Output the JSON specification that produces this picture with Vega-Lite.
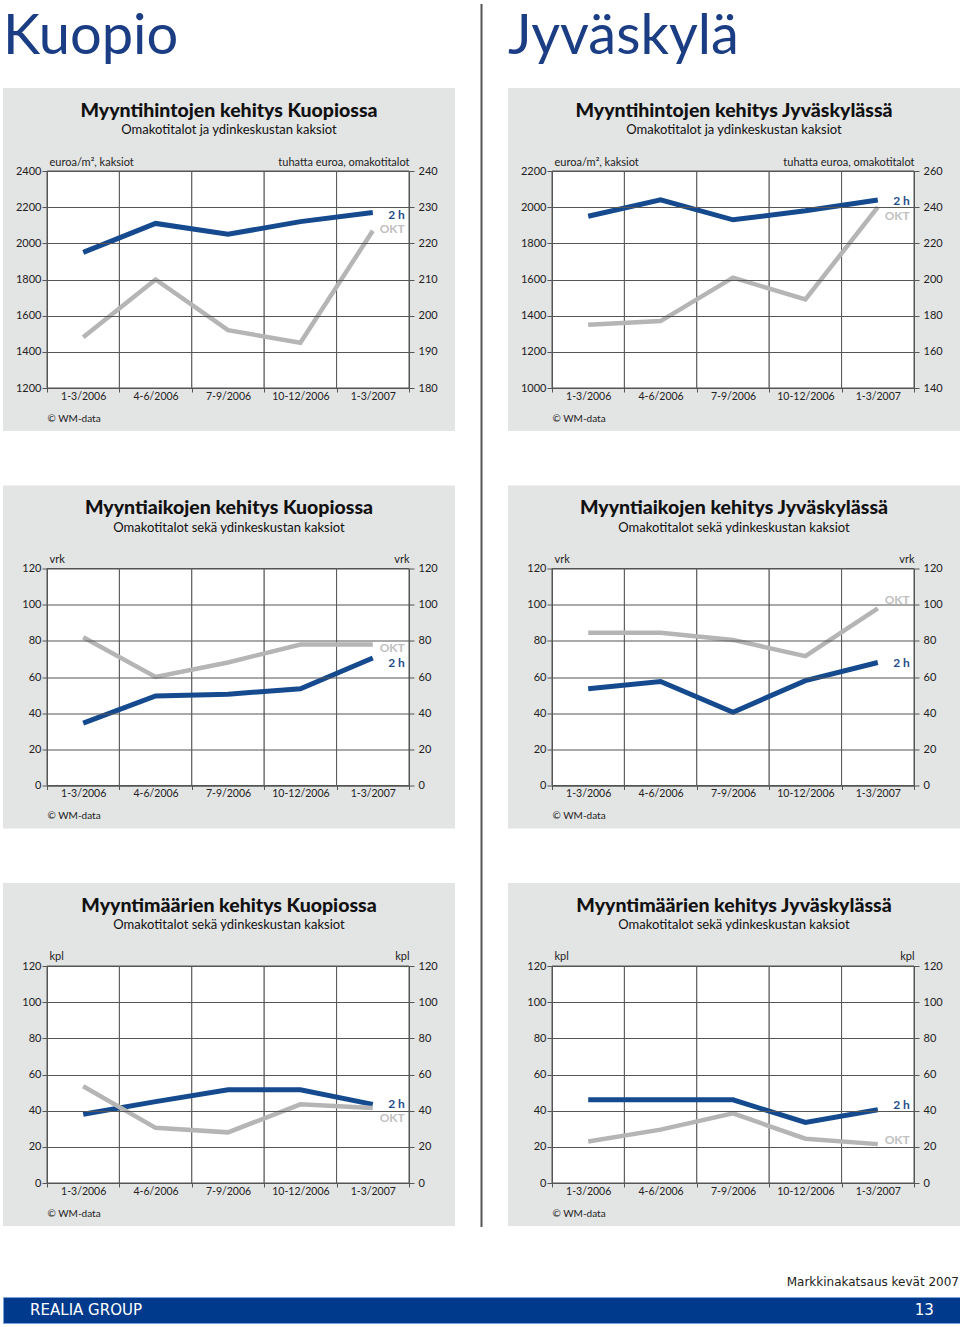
{
  "$schema": "https://vega.github.io/schema/vega-lite/v6.json",
  "background": "white",
  "padding": {"left": 2, "top": 4, "right": 0, "bottom": 0},
  "config": {
    "view": {"stroke": null},
    "font": "Lato",
    "axis": {"zindex": 1, "domainColor": "#555", "tickColor": "#555", "gridColor": "#555", "gridWidth": 1, "domainWidth": 1, "tickWidth": 1, "labelFont": "Lato", "labelFontSize": 11, "labelColor": "#222", "titleFont": "Lato", "titleFontSize": 11, "titleFontWeight": "normal", "titleColor": "#222", "labelFlush": false, "labelOverlap": false},
    "title": {"anchor": "middle", "frame": "group", "offset": -50, "font": "Lato", "fontSize": 19.5, "fontWeight": 900, "color": "#111", "subtitleFont": "Lato", "subtitleFontSize": 13, "subtitleColor": "#111", "subtitlePadding": 3}
  },
  "vconcat": [
    {
      "spacing": 25.5,
      "hconcat": [
        {
          "spacing": 23,
          "vconcat": [
            {
              "width": 452, "height": 60,
              "title": {"text": "Kuopio", "anchor": "start", "frame": "group", "offset": -59.5, "dy": 2, "font": "Lato", "fontSize": 56, "fontWeight": "normal", "color": "#1b3d84"},
              "data": {"values": [{}]},
              "mark": {"type": "point", "opacity": 0, "size": 0},
              "encoding": {}
            },
            {
              "spacing": 54.5,
              "vconcat": [
                {
                  "width": 452, "height": 343,
                  "view": {"fill": "#e3e4e4", "stroke": null},
                  "title": {"text": "Myyntihintojen kehitys Kuopiossa", "subtitle": "Omakotitalot ja ydinkeskustan kaksiot"},
                  "data": {"values": [
                    {"period": "1-3/2006", "series": "2 h", "value": 1950},
                    {"period": "4-6/2006", "series": "2 h", "value": 2110},
                    {"period": "7-9/2006", "series": "2 h", "value": 2050},
                    {"period": "10-12/2006", "series": "2 h", "value": 2120},
                    {"period": "1-3/2007", "series": "2 h", "value": 2170},
                    {"period": "1-3/2006", "series": "OKT", "value": 194},
                    {"period": "4-6/2006", "series": "OKT", "value": 210},
                    {"period": "7-9/2006", "series": "OKT", "value": 196},
                    {"period": "10-12/2006", "series": "OKT", "value": 192.5},
                    {"period": "1-3/2007", "series": "OKT", "value": 223.5}
                  ]},
                  "encoding": {"x": {"field": "period", "type": "ordinal", "sort": ["1-3/2006", "4-6/2006", "7-9/2006", "10-12/2006", "1-3/2007"], "scale": {"type": "band", "range": [44, 406], "paddingInner": 0, "paddingOuter": 0}, "axis": {"orient": "bottom", "offset": -43, "zindex": 1, "tickBand": "extent", "grid": false, "tickSize": 4, "labelPadding": -1, "labelAngle": 0, "labelFontSize": 10.5, "title": "© WM-data", "titleX": 44, "titleY": 30, "titleAlign": "left", "titleBaseline": "middle", "titleFontSize": 10}}},
                  "layer": [
                    {
                      "transform": [{"filter": "datum.series == '2 h'"}],
                      "encoding": {"y": {"field": "value", "type": "quantitative", "scale": {"domain": [1200, 2400], "range": [300, 83], "nice": false, "zero": false}, "axis": {"orient": "left", "offset": -44, "zindex": 1, "values": [1200, 1400, 1600, 1800, 2000, 2200, 2400], "format": "d", "grid": true, "tickSize": 5, "labelPadding": 1, "title": "euroa/m², kaksiot", "titleAngle": 0, "titleAlign": "left", "titleBaseline": "alphabetic", "titleX": 2, "titleY": 77}}},
                      "layer": [
                        {"mark": {"type": "rect", "fill": "white", "stroke": "#555", "strokeWidth": 1}, "encoding": {"y": {"datum": 1200, "type": "quantitative"}, "y2": {"datum": 2400}}},
                        {"mark": {"type": "line", "color": "#154a8e", "strokeWidth": 5}},
                        {"transform": [{"filter": "datum.period == '1-3/2007'"}], "mark": {"type": "text", "align": "right", "baseline": "middle", "dx": 32, "dy": 2, "font": "Lato", "fontWeight": "bold", "fontSize": 12, "color": "#1f4e8c"}, "encoding": {"text": {"field": "series"}}}
                      ]
                    },
                    {
                      "transform": [{"filter": "datum.series == 'OKT'"}],
                      "encoding": {"y": {"field": "value", "type": "quantitative", "scale": {"domain": [180, 240], "range": [300, 83], "nice": false, "zero": false}, "axis": {"orient": "right", "offset": -46, "zindex": 1, "values": [180, 190, 200, 210, 220, 230, 240], "format": "d", "grid": false, "tickSize": 5, "labelPadding": 4, "title": "tuhatta euroa, omakotitalot", "titleAngle": 0, "titleAlign": "right", "titleBaseline": "alphabetic", "titleX": 0, "titleY": 77}}},
                      "layer": [
                        {"mark": {"type": "line", "color": "#b5b5b5", "strokeWidth": 4.5}},
                        {"transform": [{"filter": "datum.period == '1-3/2007'"}], "mark": {"type": "text", "align": "right", "baseline": "middle", "dx": 32, "dy": -2, "font": "Lato", "fontWeight": "bold", "fontSize": 12, "color": "#c0c0c0"}, "encoding": {"text": {"field": "series"}}}
                      ]
                    }
                  ],
                  "resolve": {"scale": {"y": "independent"}, "axis": {"y": "independent"}}
                },
                {
                  "width": 452, "height": 343,
                  "view": {"fill": "#e3e4e4", "stroke": null},
                  "title": {"text": "Myyntiaikojen kehitys Kuopiossa", "subtitle": "Omakotitalot sekä ydinkeskustan kaksiot"},
                  "data": {"values": [
                    {"period": "1-3/2006", "series": "2 h", "value": 34.5},
                    {"period": "4-6/2006", "series": "2 h", "value": 49.5},
                    {"period": "7-9/2006", "series": "2 h", "value": 50.5},
                    {"period": "10-12/2006", "series": "2 h", "value": 53.5},
                    {"period": "1-3/2007", "series": "2 h", "value": 70.5},
                    {"period": "1-3/2006", "series": "OKT", "value": 82},
                    {"period": "4-6/2006", "series": "OKT", "value": 60},
                    {"period": "7-9/2006", "series": "OKT", "value": 68},
                    {"period": "10-12/2006", "series": "OKT", "value": 78},
                    {"period": "1-3/2007", "series": "OKT", "value": 78}
                  ]},
                  "encoding": {"x": {"field": "period", "type": "ordinal", "sort": ["1-3/2006", "4-6/2006", "7-9/2006", "10-12/2006", "1-3/2007"], "scale": {"type": "band", "range": [44, 406], "paddingInner": 0, "paddingOuter": 0}, "axis": {"orient": "bottom", "offset": -43, "zindex": 1, "tickBand": "extent", "grid": false, "tickSize": 4, "labelPadding": -1, "labelAngle": 0, "labelFontSize": 10.5, "title": "© WM-data", "titleX": 44, "titleY": 30, "titleAlign": "left", "titleBaseline": "middle", "titleFontSize": 10}}},
                  "layer": [
                    {
                      "transform": [{"filter": "datum.series == '2 h'"}],
                      "encoding": {"y": {"field": "value", "type": "quantitative", "scale": {"domain": [0, 120], "range": [300, 83], "nice": false, "zero": false}, "axis": {"orient": "left", "offset": -44, "zindex": 1, "values": [0, 20, 40, 60, 80, 100, 120], "format": "d", "grid": true, "tickSize": 5, "labelPadding": 1, "title": "vrk", "titleAngle": 0, "titleAlign": "left", "titleBaseline": "alphabetic", "titleX": 2, "titleY": 77}}},
                      "layer": [
                        {"mark": {"type": "rect", "fill": "white", "stroke": "#555", "strokeWidth": 1}, "encoding": {"y": {"datum": 0, "type": "quantitative"}, "y2": {"datum": 120}}},
                        {"mark": {"type": "line", "color": "#154a8e", "strokeWidth": 5}},
                        {"transform": [{"filter": "datum.period == '1-3/2007'"}], "mark": {"type": "text", "align": "right", "baseline": "middle", "dx": 32, "dy": 5, "font": "Lato", "fontWeight": "bold", "fontSize": 12, "color": "#1f4e8c"}, "encoding": {"text": {"field": "series"}}}
                      ]
                    },
                    {
                      "transform": [{"filter": "datum.series == 'OKT'"}],
                      "encoding": {"y": {"field": "value", "type": "quantitative", "scale": {"domain": [0, 120], "range": [300, 83], "nice": false, "zero": false}, "axis": {"orient": "right", "offset": -46, "zindex": 1, "values": [0, 20, 40, 60, 80, 100, 120], "format": "d", "grid": false, "tickSize": 5, "labelPadding": 4, "title": "vrk", "titleAngle": 0, "titleAlign": "right", "titleBaseline": "alphabetic", "titleX": 0, "titleY": 77}}},
                      "layer": [
                        {"mark": {"type": "line", "color": "#b5b5b5", "strokeWidth": 4.5}},
                        {"transform": [{"filter": "datum.period == '1-3/2007'"}], "mark": {"type": "text", "align": "right", "baseline": "middle", "dx": 32, "dy": 4, "font": "Lato", "fontWeight": "bold", "fontSize": 12, "color": "#c0c0c0"}, "encoding": {"text": {"field": "series"}}}
                      ]
                    }
                  ],
                  "resolve": {"scale": {"y": "independent"}, "axis": {"y": "independent"}}
                },
                {
                  "width": 452, "height": 343,
                  "view": {"fill": "#e3e4e4", "stroke": null},
                  "title": {"text": "Myyntimäärien kehitys Kuopiossa", "subtitle": "Omakotitalot sekä ydinkeskustan kaksiot"},
                  "data": {"values": [
                    {"period": "1-3/2006", "series": "2 h", "value": 38},
                    {"period": "4-6/2006", "series": "2 h", "value": 45},
                    {"period": "7-9/2006", "series": "2 h", "value": 51.5},
                    {"period": "10-12/2006", "series": "2 h", "value": 51.5},
                    {"period": "1-3/2007", "series": "2 h", "value": 43.5},
                    {"period": "1-3/2006", "series": "OKT", "value": 53.5},
                    {"period": "4-6/2006", "series": "OKT", "value": 30.5},
                    {"period": "7-9/2006", "series": "OKT", "value": 28},
                    {"period": "10-12/2006", "series": "OKT", "value": 43.5},
                    {"period": "1-3/2007", "series": "OKT", "value": 41.5}
                  ]},
                  "encoding": {"x": {"field": "period", "type": "ordinal", "sort": ["1-3/2006", "4-6/2006", "7-9/2006", "10-12/2006", "1-3/2007"], "scale": {"type": "band", "range": [44, 406], "paddingInner": 0, "paddingOuter": 0}, "axis": {"orient": "bottom", "offset": -43, "zindex": 1, "tickBand": "extent", "grid": false, "tickSize": 4, "labelPadding": -1, "labelAngle": 0, "labelFontSize": 10.5, "title": "© WM-data", "titleX": 44, "titleY": 30, "titleAlign": "left", "titleBaseline": "middle", "titleFontSize": 10}}},
                  "layer": [
                    {
                      "transform": [{"filter": "datum.series == '2 h'"}],
                      "encoding": {"y": {"field": "value", "type": "quantitative", "scale": {"domain": [0, 120], "range": [300, 83], "nice": false, "zero": false}, "axis": {"orient": "left", "offset": -44, "zindex": 1, "values": [0, 20, 40, 60, 80, 100, 120], "format": "d", "grid": true, "tickSize": 5, "labelPadding": 1, "title": "kpl", "titleAngle": 0, "titleAlign": "left", "titleBaseline": "alphabetic", "titleX": 2, "titleY": 76}}},
                      "layer": [
                        {"mark": {"type": "rect", "fill": "white", "stroke": "#555", "strokeWidth": 1}, "encoding": {"y": {"datum": 0, "type": "quantitative"}, "y2": {"datum": 120}}},
                        {"mark": {"type": "line", "color": "#154a8e", "strokeWidth": 5}},
                        {"transform": [{"filter": "datum.period == '1-3/2007'"}], "mark": {"type": "text", "align": "right", "baseline": "middle", "dx": 32, "dy": 0, "font": "Lato", "fontWeight": "bold", "fontSize": 12, "color": "#1f4e8c"}, "encoding": {"text": {"field": "series"}}}
                      ]
                    },
                    {
                      "transform": [{"filter": "datum.series == 'OKT'"}],
                      "encoding": {"y": {"field": "value", "type": "quantitative", "scale": {"domain": [0, 120], "range": [300, 83], "nice": false, "zero": false}, "axis": {"orient": "right", "offset": -46, "zindex": 1, "values": [0, 20, 40, 60, 80, 100, 120], "format": "d", "grid": false, "tickSize": 5, "labelPadding": 4, "title": "kpl", "titleAngle": 0, "titleAlign": "right", "titleBaseline": "alphabetic", "titleX": 0, "titleY": 76}}},
                      "layer": [
                        {"mark": {"type": "line", "color": "#b5b5b5", "strokeWidth": 4.5}},
                        {"transform": [{"filter": "datum.period == '1-3/2007'"}], "mark": {"type": "text", "align": "right", "baseline": "middle", "dx": 32, "dy": 10, "font": "Lato", "fontWeight": "bold", "fontSize": 12, "color": "#c0c0c0"}, "encoding": {"text": {"field": "series"}}}
                      ]
                    }
                  ],
                  "resolve": {"scale": {"y": "independent"}, "axis": {"y": "independent"}}
                }
              ]
            }
          ]
        },
        {
          "width": 2, "height": 1223,
          "view": {"fill": "#555555", "stroke": null},
          "data": {"values": [{}]},
          "mark": {"type": "point", "opacity": 0, "size": 0},
          "encoding": {}
        },
        {
          "spacing": 23,
          "vconcat": [
            {
              "width": 452, "height": 60,
              "title": {"text": "Jyväskylä", "anchor": "start", "frame": "group", "offset": -59.5, "dy": 2, "font": "Lato", "fontSize": 56, "fontWeight": "normal", "color": "#1b3d84"},
              "data": {"values": [{}]},
              "mark": {"type": "point", "opacity": 0, "size": 0},
              "encoding": {}
            },
            {
              "spacing": 54.5,
              "vconcat": [
                {
                  "width": 452, "height": 343,
                  "view": {"fill": "#e3e4e4", "stroke": null},
                  "title": {"text": "Myyntihintojen kehitys Jyväskylässä", "subtitle": "Omakotitalot ja ydinkeskustan kaksiot"},
                  "data": {"values": [
                    {"period": "1-3/2006", "series": "2 h", "value": 1950},
                    {"period": "4-6/2006", "series": "2 h", "value": 2040},
                    {"period": "7-9/2006", "series": "2 h", "value": 1930},
                    {"period": "10-12/2006", "series": "2 h", "value": 1980},
                    {"period": "1-3/2007", "series": "2 h", "value": 2040},
                    {"period": "1-3/2006", "series": "OKT", "value": 175},
                    {"period": "4-6/2006", "series": "OKT", "value": 177},
                    {"period": "7-9/2006", "series": "OKT", "value": 201},
                    {"period": "10-12/2006", "series": "OKT", "value": 189},
                    {"period": "1-3/2007", "series": "OKT", "value": 240}
                  ]},
                  "encoding": {"x": {"field": "period", "type": "ordinal", "sort": ["1-3/2006", "4-6/2006", "7-9/2006", "10-12/2006", "1-3/2007"], "scale": {"type": "band", "range": [44, 406], "paddingInner": 0, "paddingOuter": 0}, "axis": {"orient": "bottom", "offset": -43, "zindex": 1, "tickBand": "extent", "grid": false, "tickSize": 4, "labelPadding": -1, "labelAngle": 0, "labelFontSize": 10.5, "title": "© WM-data", "titleX": 44, "titleY": 30, "titleAlign": "left", "titleBaseline": "middle", "titleFontSize": 10}}},
                  "layer": [
                    {
                      "transform": [{"filter": "datum.series == '2 h'"}],
                      "encoding": {"y": {"field": "value", "type": "quantitative", "scale": {"domain": [1000, 2200], "range": [300, 83], "nice": false, "zero": false}, "axis": {"orient": "left", "offset": -44, "zindex": 1, "values": [1000, 1200, 1400, 1600, 1800, 2000, 2200], "format": "d", "grid": true, "tickSize": 5, "labelPadding": 1, "title": "euroa/m², kaksiot", "titleAngle": 0, "titleAlign": "left", "titleBaseline": "alphabetic", "titleX": 2, "titleY": 77}}},
                      "layer": [
                        {"mark": {"type": "rect", "fill": "white", "stroke": "#555", "strokeWidth": 1}, "encoding": {"y": {"datum": 1000, "type": "quantitative"}, "y2": {"datum": 2200}}},
                        {"mark": {"type": "line", "color": "#154a8e", "strokeWidth": 5}},
                        {"transform": [{"filter": "datum.period == '1-3/2007'"}], "mark": {"type": "text", "align": "right", "baseline": "middle", "dx": 32, "dy": 1, "font": "Lato", "fontWeight": "bold", "fontSize": 12, "color": "#1f4e8c"}, "encoding": {"text": {"field": "series"}}}
                      ]
                    },
                    {
                      "transform": [{"filter": "datum.series == 'OKT'"}],
                      "encoding": {"y": {"field": "value", "type": "quantitative", "scale": {"domain": [140, 260], "range": [300, 83], "nice": false, "zero": false}, "axis": {"orient": "right", "offset": -46, "zindex": 1, "values": [140, 160, 180, 200, 220, 240, 260], "format": "d", "grid": false, "tickSize": 5, "labelPadding": 4, "title": "tuhatta euroa, omakotitalot", "titleAngle": 0, "titleAlign": "right", "titleBaseline": "alphabetic", "titleX": 0, "titleY": 77}}},
                      "layer": [
                        {"mark": {"type": "line", "color": "#b5b5b5", "strokeWidth": 4.5}},
                        {"transform": [{"filter": "datum.period == '1-3/2007'"}], "mark": {"type": "text", "align": "right", "baseline": "middle", "dx": 32, "dy": 9, "font": "Lato", "fontWeight": "bold", "fontSize": 12, "color": "#c0c0c0"}, "encoding": {"text": {"field": "series"}}}
                      ]
                    }
                  ],
                  "resolve": {"scale": {"y": "independent"}, "axis": {"y": "independent"}}
                },
                {
                  "width": 452, "height": 343,
                  "view": {"fill": "#e3e4e4", "stroke": null},
                  "title": {"text": "Myyntiaikojen kehitys Jyväskylässä", "subtitle": "Omakotitalot sekä ydinkeskustan kaksiot"},
                  "data": {"values": [
                    {"period": "1-3/2006", "series": "2 h", "value": 53.5},
                    {"period": "4-6/2006", "series": "2 h", "value": 57.5},
                    {"period": "7-9/2006", "series": "2 h", "value": 40.5},
                    {"period": "10-12/2006", "series": "2 h", "value": 58},
                    {"period": "1-3/2007", "series": "2 h", "value": 68},
                    {"period": "1-3/2006", "series": "OKT", "value": 84.5},
                    {"period": "4-6/2006", "series": "OKT", "value": 84.5},
                    {"period": "7-9/2006", "series": "OKT", "value": 80.5},
                    {"period": "10-12/2006", "series": "OKT", "value": 71.5},
                    {"period": "1-3/2007", "series": "OKT", "value": 98}
                  ]},
                  "encoding": {"x": {"field": "period", "type": "ordinal", "sort": ["1-3/2006", "4-6/2006", "7-9/2006", "10-12/2006", "1-3/2007"], "scale": {"type": "band", "range": [44, 406], "paddingInner": 0, "paddingOuter": 0}, "axis": {"orient": "bottom", "offset": -43, "zindex": 1, "tickBand": "extent", "grid": false, "tickSize": 4, "labelPadding": -1, "labelAngle": 0, "labelFontSize": 10.5, "title": "© WM-data", "titleX": 44, "titleY": 30, "titleAlign": "left", "titleBaseline": "middle", "titleFontSize": 10}}},
                  "layer": [
                    {
                      "transform": [{"filter": "datum.series == '2 h'"}],
                      "encoding": {"y": {"field": "value", "type": "quantitative", "scale": {"domain": [0, 120], "range": [300, 83], "nice": false, "zero": false}, "axis": {"orient": "left", "offset": -44, "zindex": 1, "values": [0, 20, 40, 60, 80, 100, 120], "format": "d", "grid": true, "tickSize": 5, "labelPadding": 1, "title": "vrk", "titleAngle": 0, "titleAlign": "left", "titleBaseline": "alphabetic", "titleX": 2, "titleY": 77}}},
                      "layer": [
                        {"mark": {"type": "rect", "fill": "white", "stroke": "#555", "strokeWidth": 1}, "encoding": {"y": {"datum": 0, "type": "quantitative"}, "y2": {"datum": 120}}},
                        {"mark": {"type": "line", "color": "#154a8e", "strokeWidth": 5}},
                        {"transform": [{"filter": "datum.period == '1-3/2007'"}], "mark": {"type": "text", "align": "right", "baseline": "middle", "dx": 32, "dy": 0, "font": "Lato", "fontWeight": "bold", "fontSize": 12, "color": "#1f4e8c"}, "encoding": {"text": {"field": "series"}}}
                      ]
                    },
                    {
                      "transform": [{"filter": "datum.series == 'OKT'"}],
                      "encoding": {"y": {"field": "value", "type": "quantitative", "scale": {"domain": [0, 120], "range": [300, 83], "nice": false, "zero": false}, "axis": {"orient": "right", "offset": -46, "zindex": 1, "values": [0, 20, 40, 60, 80, 100, 120], "format": "d", "grid": false, "tickSize": 5, "labelPadding": 4, "title": "vrk", "titleAngle": 0, "titleAlign": "right", "titleBaseline": "alphabetic", "titleX": 0, "titleY": 77}}},
                      "layer": [
                        {"mark": {"type": "line", "color": "#b5b5b5", "strokeWidth": 4.5}},
                        {"transform": [{"filter": "datum.period == '1-3/2007'"}], "mark": {"type": "text", "align": "right", "baseline": "middle", "dx": 32, "dy": -8, "font": "Lato", "fontWeight": "bold", "fontSize": 12, "color": "#c0c0c0"}, "encoding": {"text": {"field": "series"}}}
                      ]
                    }
                  ],
                  "resolve": {"scale": {"y": "independent"}, "axis": {"y": "independent"}}
                },
                {
                  "width": 452, "height": 343,
                  "view": {"fill": "#e3e4e4", "stroke": null},
                  "title": {"text": "Myyntimäärien kehitys Jyväskylässä", "subtitle": "Omakotitalot sekä ydinkeskustan kaksiot"},
                  "data": {"values": [
                    {"period": "1-3/2006", "series": "2 h", "value": 46},
                    {"period": "4-6/2006", "series": "2 h", "value": 46},
                    {"period": "7-9/2006", "series": "2 h", "value": 46},
                    {"period": "10-12/2006", "series": "2 h", "value": 33.5},
                    {"period": "1-3/2007", "series": "2 h", "value": 40.5},
                    {"period": "1-3/2006", "series": "OKT", "value": 23},
                    {"period": "4-6/2006", "series": "OKT", "value": 29.5},
                    {"period": "7-9/2006", "series": "OKT", "value": 38.5},
                    {"period": "10-12/2006", "series": "OKT", "value": 24.5},
                    {"period": "1-3/2007", "series": "OKT", "value": 21.5}
                  ]},
                  "encoding": {"x": {"field": "period", "type": "ordinal", "sort": ["1-3/2006", "4-6/2006", "7-9/2006", "10-12/2006", "1-3/2007"], "scale": {"type": "band", "range": [44, 406], "paddingInner": 0, "paddingOuter": 0}, "axis": {"orient": "bottom", "offset": -43, "zindex": 1, "tickBand": "extent", "grid": false, "tickSize": 4, "labelPadding": -1, "labelAngle": 0, "labelFontSize": 10.5, "title": "© WM-data", "titleX": 44, "titleY": 30, "titleAlign": "left", "titleBaseline": "middle", "titleFontSize": 10}}},
                  "layer": [
                    {
                      "transform": [{"filter": "datum.series == '2 h'"}],
                      "encoding": {"y": {"field": "value", "type": "quantitative", "scale": {"domain": [0, 120], "range": [300, 83], "nice": false, "zero": false}, "axis": {"orient": "left", "offset": -44, "zindex": 1, "values": [0, 20, 40, 60, 80, 100, 120], "format": "d", "grid": true, "tickSize": 5, "labelPadding": 1, "title": "kpl", "titleAngle": 0, "titleAlign": "left", "titleBaseline": "alphabetic", "titleX": 2, "titleY": 76}}},
                      "layer": [
                        {"mark": {"type": "rect", "fill": "white", "stroke": "#555", "strokeWidth": 1}, "encoding": {"y": {"datum": 0, "type": "quantitative"}, "y2": {"datum": 120}}},
                        {"mark": {"type": "line", "color": "#154a8e", "strokeWidth": 5}},
                        {"transform": [{"filter": "datum.period == '1-3/2007'"}], "mark": {"type": "text", "align": "right", "baseline": "middle", "dx": 32, "dy": -5, "font": "Lato", "fontWeight": "bold", "fontSize": 12, "color": "#1f4e8c"}, "encoding": {"text": {"field": "series"}}}
                      ]
                    },
                    {
                      "transform": [{"filter": "datum.series == 'OKT'"}],
                      "encoding": {"y": {"field": "value", "type": "quantitative", "scale": {"domain": [0, 120], "range": [300, 83], "nice": false, "zero": false}, "axis": {"orient": "right", "offset": -46, "zindex": 1, "values": [0, 20, 40, 60, 80, 100, 120], "format": "d", "grid": false, "tickSize": 5, "labelPadding": 4, "title": "kpl", "titleAngle": 0, "titleAlign": "right", "titleBaseline": "alphabetic", "titleX": 0, "titleY": 76}}},
                      "layer": [
                        {"mark": {"type": "line", "color": "#b5b5b5", "strokeWidth": 4.5}},
                        {"transform": [{"filter": "datum.period == '1-3/2007'"}], "mark": {"type": "text", "align": "right", "baseline": "middle", "dx": 32, "dy": -4, "font": "Lato", "fontWeight": "bold", "fontSize": 12, "color": "#c0c0c0"}, "encoding": {"text": {"field": "series"}}}
                      ]
                    }
                  ],
                  "resolve": {"scale": {"y": "independent"}, "axis": {"y": "independent"}}
                }
              ]
            }
          ]
        }
      ]
    },
    {
      "width": 958, "height": 26,
      "view": {"fill": "#003a8c", "stroke": "#7aa3da", "strokeWidth": 1},
      "title": {"text": "Markkinakatsaus kevät 2007", "anchor": "end", "frame": "group", "offset": 8, "dx": -2, "font": "DejaVu Sans", "fontSize": 12, "fontWeight": "normal", "color": "#222"},
      "data": {"values": [{"label": "REALIA GROUP"}, {"label": "13"}]},
      "encoding": {"x": {"field": "label", "type": "nominal", "sort": ["REALIA GROUP", "13"], "scale": {"type": "point", "padding": 0.03}, "axis": null}, "text": {"field": "label"}},
      "layer": [
        {"transform": [{"filter": "datum.label == 'REALIA GROUP'"}], "mark": {"type": "text", "align": "left", "baseline": "middle", "font": "DejaVu Sans", "fontSize": 15, "color": "white"}},
        {"transform": [{"filter": "datum.label == '13'"}], "mark": {"type": "text", "align": "right", "baseline": "middle", "font": "DejaVu Sans", "fontSize": 15, "color": "white"}}
      ]
    }
  ],
  "spacing": 48
}
